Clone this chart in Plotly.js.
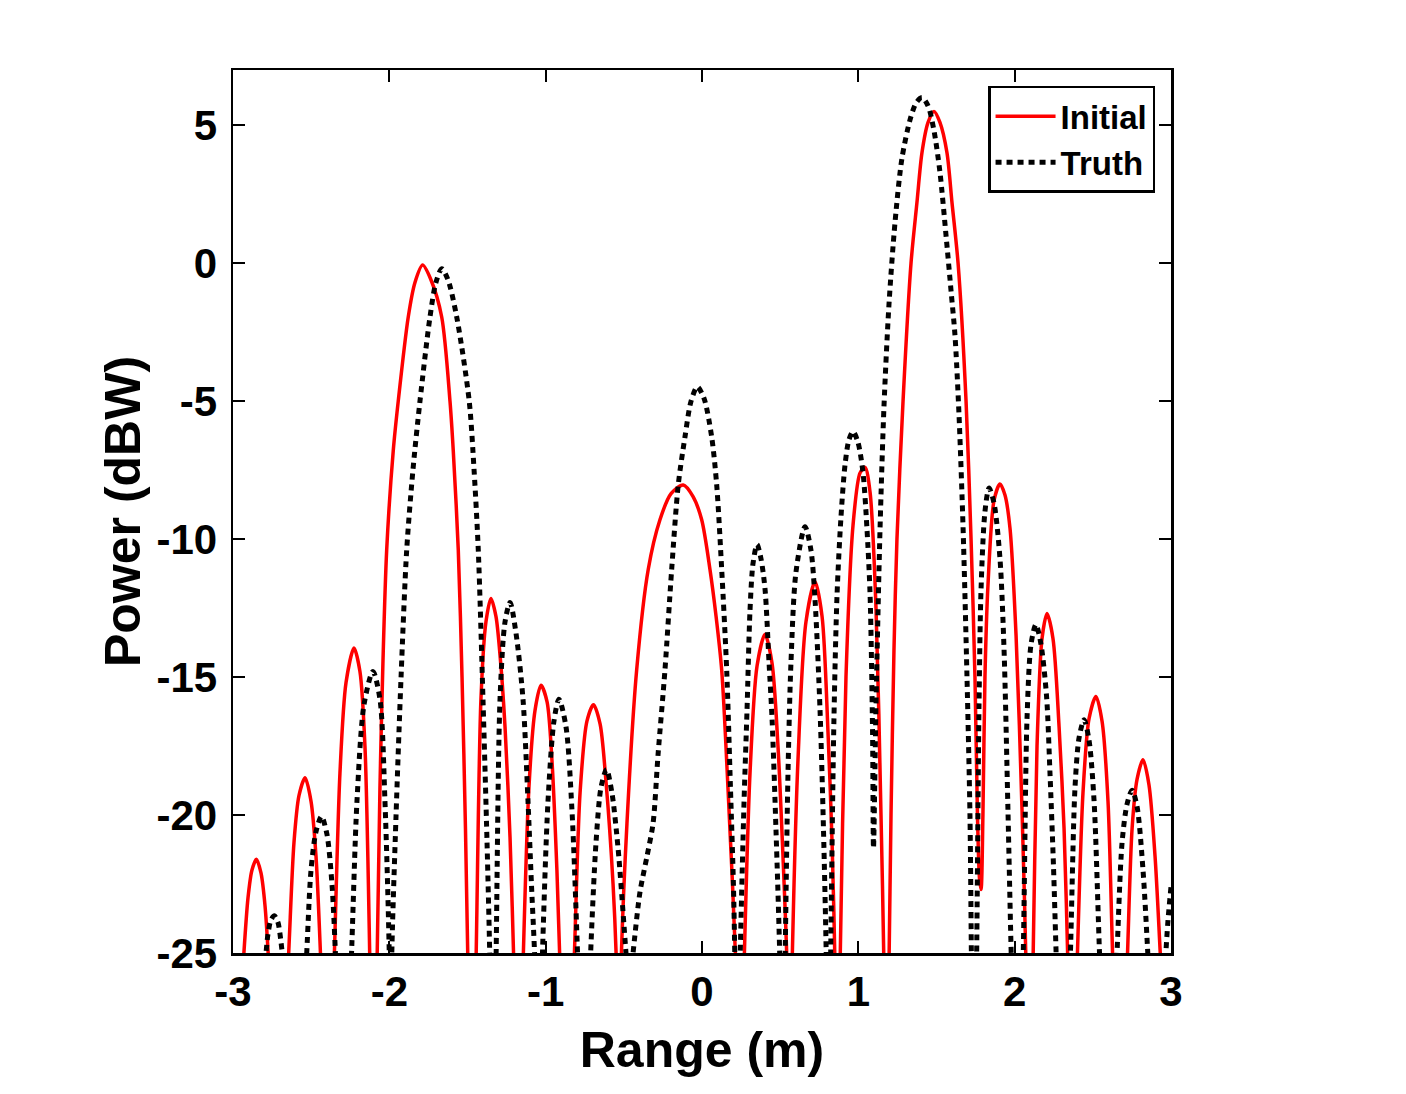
<!DOCTYPE html>
<html>
<head>
<meta charset="utf-8">
<script src="https://cdn.plot.ly/plotly-3.0.1.min.js"></script>
<style>
  html, body { margin: 0; padding: 0; background: #fff; }
  #chart { width: 1406px; height: 1094px; }
</style>
</head>
<body>
<div id="chart"></div>
<script>
// Range axis (m) and power (dBW); values below -25 dBW fall outside the axes
const initialRange = [
  -3.000, -2.936, -2.904, -2.879, -2.850, -2.821, -2.795, -2.770, -2.712,
  -2.648, -2.610, -2.578, -2.539, -2.501, -2.469, -2.437, -2.392,
  -2.354, -2.316, -2.277, -2.226, -2.188, -2.156, -2.124, -2.105,
  -2.079, -2.060, -2.041, -2.017, -1.975, -1.943, -1.879, -1.836, -1.787, -1.734, -1.665, -1.612, -1.591, -1.559, -1.535, -1.513, -1.497, -1.471,
  -1.446, -1.414, -1.382, -1.350, -1.318, -1.292, -1.260, -1.228, -1.203, -1.171,
  -1.145, -1.107, -1.068, -1.030, -0.991, -0.960, -0.928, -0.908, -0.864,
  -0.819, -0.780, -0.736, -0.694, -0.652, -0.614, -0.569, -0.547, -0.534,
  -0.518, -0.480, -0.418, -0.344, -0.269, -0.198, -0.120, -0.058, -0.002, 0.051, 0.090, 0.126, 0.166, 0.217, 0.243,
  0.269, 0.307, 0.352, 0.403, 0.448, 0.486, 0.518, 0.544, 0.557,
  0.576, 0.614, 0.665, 0.723, 0.768, 0.806, 0.832, 0.851, 0.867,
  0.883, 0.921, 0.966, 1.011, 1.043, 1.075, 1.113, 1.145, 1.164, 1.177,
  1.196, 1.209, 1.228, 1.247, 1.286, 1.337, 1.375, 1.407, 1.446, 1.484, 1.522, 1.567, 1.599, 1.638,
  1.689, 1.721, 1.746, 1.762, 1.775, 1.785, 1.797, 1.810, 1.829, 1.868, 1.906, 1.938, 1.970, 2.009, 2.047, 2.073, 2.092,
  2.117, 2.143, 2.175, 2.207, 2.245, 2.284, 2.316, 2.341, 2.367,
  2.399, 2.437, 2.476, 2.520, 2.559, 2.597, 2.629, 2.674,
  2.719, 2.751, 2.783, 2.821, 2.859, 2.898, 2.936, 3.000
];
const initialPower = [
  -32, -25.5, -23.0, -22.0, -21.6, -22.1, -23.3, -25.5, -32,
  -25.5, -21.0, -19.3, -18.65, -19.5, -21.5, -25.5, -32,
  -25.5, -18.5, -15.2, -13.95, -14.8, -17.5, -25.5, -32,
  -25.5, -19.0, -14.5, -10.4, -6.8, -5.0, -1.95, -0.7, -0.07, -0.6, -1.95, -5.0, -6.8, -10.4, -15.0, -20.5, -25.5, -32,
  -25.5, -15.8, -13.0, -12.15, -12.8, -14.2, -16.8, -20.8, -25.5, -32,
  -25.5, -19.0, -16.2, -15.3, -15.9, -18.0, -22.0, -25.5, -32,
  -25.5, -19.2, -16.6, -16.0, -16.7, -18.8, -22.5, -25.5, -32,
  -25.5, -20.3, -14.75, -11.1, -9.3, -8.35, -8.04, -8.45, -9.3, -11.1, -12.8, -14.75, -19.0, -25.5, -32,
  -25.5, -18.5, -14.6, -13.45, -14.5, -17.5, -21.5, -25.5, -32,
  -25.5, -18.0, -13.0, -11.55, -12.8, -17.0, -21.0, -25.5, -32,
  -25.5, -15.0, -9.5, -7.6, -7.4, -8.3, -12.5, -20.0, -25.5, -32,
  -25.5, -20.0, -14.0, -10.0, -5.0, 0.0, 2.2, 4.0, 5.1, 5.5, 5.1, 4.0, 2.2, 0.0,
  -5.0, -10.0, -15.0, -20.0, -22.3, -22.7, -20.0, -15.0, -11.7, -8.6, -8.0, -8.4, -9.6, -13.5, -19.8, -25.5, -32,
  -25.5, -17.5, -13.6, -12.7, -13.6, -16.8, -20.5, -25.5, -32,
  -25.5, -19.2, -16.5, -15.7, -16.6, -19.5, -25.5, -32,
  -25.5, -20.5, -18.7, -18.0, -18.9, -21.5, -25.5, -32
];

const truthRange = [
  -3.000, -2.799, -2.776, -2.757, -2.735, -2.712, -2.693, -2.677, -2.603,
  -2.533, -2.501, -2.469, -2.434, -2.399, -2.367, -2.341, -2.296,
  -2.245, -2.207, -2.162, -2.105, -2.060, -2.028, -1.999, -1.993,
  -1.986, -1.957, -1.925, -1.889, -1.849, -1.804, -1.740, -1.702, -1.665, -1.625, -1.569, -1.489, -1.458, -1.431, -1.401, -1.375, -1.356, -1.337,
  -1.318, -1.292, -1.260, -1.228, -1.190, -1.145, -1.113, -1.091, -1.068, -1.049,
  -1.023, -0.985, -0.947, -0.915, -0.870, -0.832, -0.793, -0.755,
  -0.716, -0.678, -0.646, -0.611, -0.576, -0.537, -0.499, -0.480, -0.467,
  -0.441, -0.397, -0.352, -0.313, -0.281, -0.237, -0.194, -0.152, -0.109, -0.070, -0.030,
  0.013, 0.062, 0.094, 0.126, 0.158, 0.182, 0.201, 0.211, 0.227,
  0.243, 0.269, 0.288, 0.307, 0.326, 0.352, 0.377, 0.403, 0.429, 0.448, 0.473, 0.499, 0.515,
  0.531, 0.550, 0.569, 0.601, 0.659, 0.697, 0.723, 0.755, 0.777, 0.796, 0.809,
  0.822, 0.844, 0.864, 0.889, 0.915, 0.940, 0.966, 0.998, 1.030, 1.055, 1.075, 1.091, 1.097,
  1.113, 1.139, 1.164, 1.196, 1.235, 1.279, 1.331, 1.369, 1.407, 1.446, 1.484, 1.522, 1.561, 1.593,
  1.618, 1.644, 1.670, 1.695, 1.714, 1.724, 1.740,
  1.756, 1.772, 1.785, 1.810, 1.836, 1.868, 1.906, 1.932, 1.957, 1.980, 2.015,
  2.053, 2.079, 2.105, 2.136, 2.168, 2.204, 2.226, 2.248, 2.268, 2.309,
  2.354, 2.386, 2.412, 2.444, 2.476, 2.508, 2.546, 2.597,
  2.651, 2.687, 2.719, 2.751, 2.783, 2.821, 2.856, 2.911,
  2.962, 2.981, 3.000
];
const truthPower = [
  -32, -25.5, -24.3, -23.8, -23.65, -23.9, -24.6, -25.5, -32,
  -25.5, -22.0, -20.6, -20.05, -20.7, -22.5, -25.5, -32,
  -25.5, -19.5, -16.0, -14.8, -15.8, -19.5, -25.5, -32,
  -25.5, -20.0, -15.0, -10.4, -7.5, -5.0, -1.95, -0.7, -0.2, -0.6, -1.95, -5.0, -7.5, -10.4, -15.8, -21.0, -25.5, -32,
  -25.5, -15.8, -13.0, -12.3, -13.4, -15.8, -19.5, -22.5, -25.5, -32,
  -25.5, -19.5, -16.6, -15.8, -16.8, -19.8, -25.5, -32,
  -25.5, -21.0, -19.0, -18.35, -19.2, -21.2, -24.0, -25.5, -26.5,
  -25.0, -22.8, -21.5, -20.3, -17.8, -14.75, -11.1, -8.04, -6.3, -5.0, -4.48,
  -4.9, -6.3, -8.04, -11.1, -14.75, -19.0, -22.5, -25.5, -32,
  -25.5, -19.5, -16.2, -12.6, -10.9, -10.2, -10.7, -11.8, -14.5, -16.5, -20.5, -25.5, -32,
  -25.5, -18.5, -14.5, -11.2, -9.55, -10.4, -12.2, -16.2, -20.5, -25.5, -32,
  -25.5, -16.5, -12.0, -9.2, -7.3, -6.4, -6.1, -6.5, -7.6, -9.6, -12.0, -17.0, -21.2,
  -16.0, -9.6, -5.2, -1.5, 1.5, 3.8, 5.2, 5.8, 6.0, 5.7, 4.8, 3.3, 1.0, -1.0,
  -2.6, -5.5, -9.6, -15.0, -20.0, -25.5, -32,
  -25.5, -16.0, -11.8, -9.0, -8.15, -8.7, -10.7, -14.0, -19.8, -25.5, -32,
  -25.5, -16.5, -13.8, -13.1, -13.8, -15.7, -18.5, -21.8, -25.5, -32,
  -25.5, -19.0, -17.2, -16.55, -17.3, -19.5, -25.5, -32,
  -25.5, -21.0, -19.6, -19.1, -19.7, -22.0, -25.5, -32,
  -25.5, -23.8, -22.6
];

const xTickVals = [-3, -2, -1, 0, 1, 2, 3];
const xTickText = ['-3', '-2', '-1', '0', '1', '2', '3'];
const yTickVals = [-25, -20, -15, -10, -5, 0, 5];
const yTickText = ['-25', '-20', '-15', '-10', '-5', '0', '5'];

const FONT = 'Arial, "Liberation Sans", sans-serif';

const traces = [
  {
    x: initialRange,
    y: initialPower,
    type: 'scatter',
    mode: 'lines',
    name: 'Initial',
    line: { color: '#ff0000', width: 3.5, shape: 'spline', smoothing: 0.8 },
  },
  {
    x: truthRange,
    y: truthPower,
    type: 'scatter',
    mode: 'lines',
    name: 'Truth',
    line: { color: '#000000', width: 5, dash: '6px,5px', shape: 'spline', smoothing: 0.8 },
  },
];

const axisCommon = {
  tickmode: 'array',
  ticks: 'inside',
  ticklen: 12,
  tickwidth: 2,
  tickcolor: '#000',
  showline: true,
  linewidth: 2.5,
  linecolor: '#000',
  mirror: 'ticks',
  showgrid: false,
  zeroline: false,
  tickfont: { family: FONT, size: 42, color: '#000', weight: 'bold' },
};

const layout = {
  width: 1406,
  height: 1094,
  margin: { l: 233, r: 235, t: 70, b: 141 },
  paper_bgcolor: '#fff',
  plot_bgcolor: '#fff',
  showlegend: true,
  legend: {
    x: 0.983,
    y: 0.982,
    xanchor: 'right',
    yanchor: 'top',
    bgcolor: '#fff',
    bordercolor: '#000',
    borderwidth: 2.5,
    itemwidth: 60,
    font: { family: FONT, size: 33, color: '#000', weight: 'bold' },
    tracegroupgap: 0,
  },
  xaxis: Object.assign({}, axisCommon, {
    range: [-3, 3],
    tickvals: xTickVals,
    ticktext: xTickText,
    title: { text: 'Range (m)', font: { family: FONT, size: 50, color: '#000', weight: 'bold' }, standoff: 18 },
  }),
  yaxis: Object.assign({}, axisCommon, {
    range: [-25, 7],
    tickvals: yTickVals,
    ticktext: yTickText,
    ticklabelstandoff: 5,
    title: { text: 'Power (dBW)', font: { family: FONT, size: 50, color: '#000', weight: 'bold' }, standoff: 0 },
  }),
};

Plotly.newPlot('chart', traces, layout, { displayModeBar: false, staticPlot: true });
</script>
</body>
</html>
